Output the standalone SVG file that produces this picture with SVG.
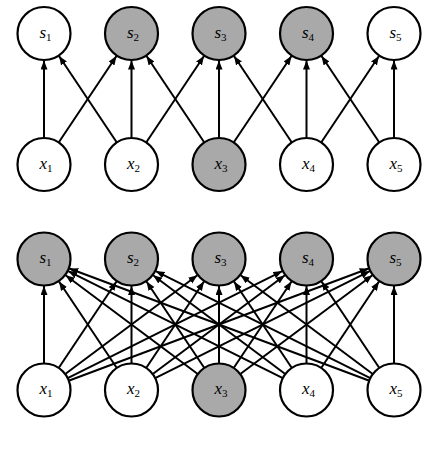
<svg xmlns="http://www.w3.org/2000/svg" width="433" height="466" viewBox="0 0 433 466">
<style>
.n{stroke:#000;stroke-width:2.2}
.w{fill:#fff}
.g{fill:#a9a9a9}
.e line{stroke:#000;stroke-width:2;marker-end:url(#ah)}
text{font-family:"Liberation Serif","DejaVu Serif",serif;font-size:17px;fill:#000;text-anchor:middle}
.v{font-style:italic}
.sub{font-size:11px}
</style>
<defs>
<marker id="ah" markerUnits="userSpaceOnUse" markerWidth="10" markerHeight="8" refX="9" refY="3.5" orient="auto">
<path d="M0,0 L9,3.5 L0,7 z" fill="#000"/>
</marker>
</defs>
<rect width="433" height="466" fill="#fff"/>
<g id="connectors" class="e">
<line x1="44" y1="137.5" x2="44" y2="60.5"/>
<line x1="116.5" y1="142.05" x2="59" y2="55.95"/>
<line x1="59" y1="142.05" x2="116.5" y2="55.95"/>
<line x1="131.5" y1="137.5" x2="131.5" y2="60.5"/>
<line x1="204" y1="142.05" x2="146.5" y2="55.95"/>
<line x1="146.5" y1="142.05" x2="204" y2="55.95"/>
<line x1="219" y1="137.5" x2="219" y2="60.5"/>
<line x1="291.5" y1="142.05" x2="234" y2="55.95"/>
<line x1="234" y1="142.05" x2="291.5" y2="55.95"/>
<line x1="306.5" y1="137.5" x2="306.5" y2="60.5"/>
<line x1="379" y1="142.05" x2="321.5" y2="55.95"/>
<line x1="321.5" y1="142.05" x2="379" y2="55.95"/>
<line x1="394" y1="137.5" x2="394" y2="60.5"/>

<line x1="44" y1="363" x2="44" y2="286"/>
<line x1="116.5" y1="367.55" x2="59" y2="281.45"/>
<line x1="197.39" y1="373.82" x2="65.61" y2="275.18"/>
<line x1="282.34" y1="377.94" x2="68.16" y2="271.06"/>
<line x1="368.71" y1="380.54" x2="69.29" y2="268.46"/>

<line x1="59" y1="367.55" x2="116.5" y2="281.45"/>
<line x1="131.5" y1="363" x2="131.5" y2="286"/>
<line x1="204" y1="367.55" x2="146.5" y2="281.45"/>
<line x1="284.89" y1="373.82" x2="153.11" y2="275.18"/>
<line x1="369.84" y1="377.94" x2="155.66" y2="271.06"/>

<line x1="65.61" y1="373.82" x2="197.39" y2="275.18"/>
<line x1="146.5" y1="367.55" x2="204" y2="281.45"/>
<line x1="219" y1="363" x2="219" y2="286"/>
<line x1="291.5" y1="367.55" x2="234" y2="281.45"/>
<line x1="372.39" y1="373.82" x2="240.61" y2="275.18"/>

<line x1="68.16" y1="377.94" x2="282.34" y2="271.06"/>
<line x1="153.11" y1="373.82" x2="284.89" y2="275.18"/>
<line x1="234" y1="367.55" x2="291.5" y2="281.45"/>
<line x1="306.5" y1="363" x2="306.5" y2="286"/>
<line x1="379" y1="367.55" x2="321.5" y2="281.45"/>

<line x1="69.29" y1="380.54" x2="368.71" y2="268.46"/>
<line x1="155.66" y1="377.94" x2="369.84" y2="271.06"/>
<line x1="240.61" y1="373.82" x2="372.39" y2="275.18"/>
<line x1="321.5" y1="367.55" x2="379" y2="281.45"/>
<line x1="394" y1="363" x2="394" y2="286"/>
</g>

<g id="top-s1"><circle class="n w" cx="44" cy="33.5" r="26.5"/><text x="45.5" y="37.5"><tspan class="v">s</tspan><tspan class="sub" dy="3">1</tspan></text></g>
<g id="top-s2"><circle class="n g" cx="131.5" cy="33.5" r="26.5"/><text x="133" y="37.5"><tspan class="v">s</tspan><tspan class="sub" dy="3">2</tspan></text></g>
<g id="top-s3"><circle class="n g" cx="219" cy="33.5" r="26.5"/><text x="220.5" y="37.5"><tspan class="v">s</tspan><tspan class="sub" dy="3">3</tspan></text></g>
<g id="top-s4"><circle class="n g" cx="306.5" cy="33.5" r="26.5"/><text x="308" y="37.5"><tspan class="v">s</tspan><tspan class="sub" dy="3">4</tspan></text></g>
<g id="top-s5"><circle class="n w" cx="394" cy="33.5" r="26.5"/><text x="395.5" y="37.5"><tspan class="v">s</tspan><tspan class="sub" dy="3">5</tspan></text></g>

<g id="top-x1"><circle class="n w" cx="44" cy="164.5" r="26.5"/><text x="46" y="168.5"><tspan class="v">x</tspan><tspan class="sub" dy="3">1</tspan></text></g>
<g id="top-x2"><circle class="n w" cx="131.5" cy="164.5" r="26.5"/><text x="133.5" y="168.5"><tspan class="v">x</tspan><tspan class="sub" dy="3">2</tspan></text></g>
<g id="top-x3"><circle class="n g" cx="219" cy="164.5" r="26.5"/><text x="221" y="168.5"><tspan class="v">x</tspan><tspan class="sub" dy="3">3</tspan></text></g>
<g id="top-x4"><circle class="n w" cx="306.5" cy="164.5" r="26.5"/><text x="308.5" y="168.5"><tspan class="v">x</tspan><tspan class="sub" dy="3">4</tspan></text></g>
<g id="top-x5"><circle class="n w" cx="394" cy="164.5" r="26.5"/><text x="396" y="168.5"><tspan class="v">x</tspan><tspan class="sub" dy="3">5</tspan></text></g>

<g id="bot-s1"><circle class="n g" cx="44" cy="259" r="26.5"/><text x="45.5" y="263"><tspan class="v">s</tspan><tspan class="sub" dy="3">1</tspan></text></g>
<g id="bot-s2"><circle class="n g" cx="131.5" cy="259" r="26.5"/><text x="133" y="263"><tspan class="v">s</tspan><tspan class="sub" dy="3">2</tspan></text></g>
<g id="bot-s3"><circle class="n g" cx="219" cy="259" r="26.5"/><text x="220.5" y="263"><tspan class="v">s</tspan><tspan class="sub" dy="3">3</tspan></text></g>
<g id="bot-s4"><circle class="n g" cx="306.5" cy="259" r="26.5"/><text x="308" y="263"><tspan class="v">s</tspan><tspan class="sub" dy="3">4</tspan></text></g>
<g id="bot-s5"><circle class="n g" cx="394" cy="259" r="26.5"/><text x="395.5" y="263"><tspan class="v">s</tspan><tspan class="sub" dy="3">5</tspan></text></g>

<g id="bot-x1"><circle class="n w" cx="44" cy="390" r="26.5"/><text x="46" y="394"><tspan class="v">x</tspan><tspan class="sub" dy="3">1</tspan></text></g>
<g id="bot-x2"><circle class="n w" cx="131.5" cy="390" r="26.5"/><text x="133.5" y="394"><tspan class="v">x</tspan><tspan class="sub" dy="3">2</tspan></text></g>
<g id="bot-x3"><circle class="n g" cx="219" cy="390" r="26.5"/><text x="221" y="394"><tspan class="v">x</tspan><tspan class="sub" dy="3">3</tspan></text></g>
<g id="bot-x4"><circle class="n w" cx="306.5" cy="390" r="26.5"/><text x="308.5" y="394"><tspan class="v">x</tspan><tspan class="sub" dy="3">4</tspan></text></g>
<g id="bot-x5"><circle class="n w" cx="394" cy="390" r="26.5"/><text x="396" y="394"><tspan class="v">x</tspan><tspan class="sub" dy="3">5</tspan></text></g>
</svg>
